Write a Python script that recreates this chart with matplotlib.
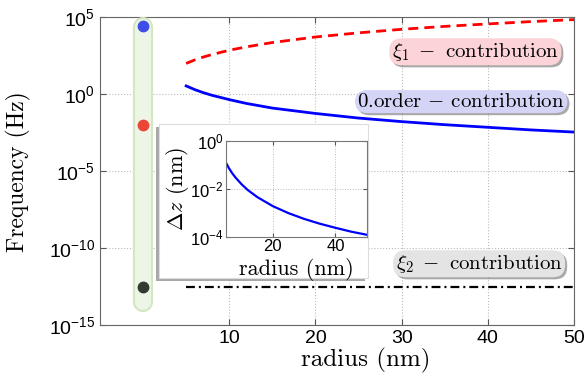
import numpy as np
import matplotlib
matplotlib.use('Agg')
import matplotlib.pyplot as plt
import matplotlib.patheffects as pe
from matplotlib.patches import Rectangle

plt.rcParams['font.family'] = ['Liberation Sans', 'DejaVu Sans']
plt.rcParams['mathtext.fontset'] = 'cm'
CM = ['cmr10', 'DejaVu Serif']

# radius values (nm) and log10 of the curves
radius = [5, 6, 7, 8, 10, 12, 15, 20, 25, 30, 35, 40, 45, 50]
xi1_log = [2.00, 2.23, 2.42, 2.58, 2.86, 3.08, 3.36, 3.72, 3.99, 4.22, 4.41, 4.57, 4.72, 4.85]
order0_log = [0.54, 0.30, 0.10, -0.07, -0.35, -0.60, -0.90, -1.25, -1.55, -1.78, -1.98, -2.15, -2.32, -2.46]
xi2_log = [-12.5] * len(radius)
dz_log = [-0.92, -1.16, -1.36, -1.53, -1.82, -2.06, -2.35, -2.73, -3.02, -3.26, -3.46, -3.63, -3.79, -3.92]

dot_logs = [4.45, -2.0, -12.5]
dot_colors = ['#3d4fe6', '#ec4637', '#333a33']
bar_range = [4.4, -13.5]

fig = plt.figure(figsize=(5.86, 3.88), dpi=100)
ax = fig.add_axes([0.1706, 0.1624, 0.8089, 0.793])

r = np.array(radius)
ax.plot(r, 10.0 ** np.array(xi1_log), color='red', lw=2, dashes=(3.6, 2.2))
ax.plot(r, 10.0 ** np.array(order0_log), color='blue', lw=2)
ax.plot(r, 10.0 ** np.array(xi2_log), color='black', lw=1.6, dashes=(4, 1.8, 0.9, 1.8))

# green rounded bar with the coloured dots
bar_y = 10.0 ** np.array(bar_range)
ax.plot([0, 0], bar_y, color='#d3e7c0', lw=14.5, solid_capstyle='round', zorder=3)
ax.plot([0, 0], bar_y, color='#edf6e6', lw=11.5, solid_capstyle='round', zorder=3)
for lv, c in zip(dot_logs, dot_colors):
    ax.plot(0, 10.0 ** lv, 'o', color=c, ms=7.5, zorder=4)

ax.set_yscale('log')
ax.set_xlim(-5, 50)
ax.set_ylim(1e-15, 1e5)
ax.set_xticks([10, 20, 30, 40, 50])
ax.set_yticks([1e-15, 1e-10, 1e-5, 1e0, 1e5])
ax.yaxis.set_minor_locator(matplotlib.ticker.NullLocator())
ax.tick_params(labelsize=14, direction='in', length=4, top=True, right=True,
               color='#555555')
ax.grid(True, ls=':', color='#bbbbbb', lw=0.8)
for s in ax.spines.values():
    s.set_color('#666666')
ax.set_xlabel('radius (nm)', fontsize=18, family=CM)
ax.set_ylabel('Frequency (Hz)', fontsize=17, family=CM)
ax.xaxis.set_label_coords(0.561, -0.075)
ax.yaxis.set_label_coords(-0.145, 0.5)

labels = [r'$\xi_1\;-$ contribution',
          r'0.order $-$ contribution',
          r'$\xi_2\;-$ contribution']
label_pos = [(0.968, 0.888), (0.981, 0.726), (0.976, 0.199)]
label_colors = ['#fcd3d6', '#d4d4f6', '#e4e4e4']
for txt, (lx, ly), c in zip(labels, label_pos, label_colors):
    t = ax.text(lx, ly, txt, transform=ax.transAxes, ha='right', va='center',
                fontsize=15, family=CM, zorder=6,
                bbox=dict(boxstyle='round,pad=0.12,rounding_size=0.6', fc=c, ec='none'))
    t.get_bbox_patch().set_path_effects([
        pe.SimplePatchShadow(offset=(1.5, -1.5), shadow_rgbFace='#555555', alpha=0.5),
        pe.Normal()])

# inset panel with shadow
fig.add_artist(Rectangle((156 / 586, 1 - 281 / 388), 209 / 586, 154 / 388,
                         transform=fig.transFigure, fc='#a8a8a8', ec='none', zorder=4))
fig.add_artist(Rectangle((159 / 586, 1 - 278 / 388), 209 / 586, 154 / 388,
                         transform=fig.transFigure, fc='white', ec='#dddddd', lw=0.8, zorder=4))

ins = fig.add_axes([0.3857, 0.39, 0.2401, 0.2474], zorder=5)
ins.plot(r, 10.0 ** np.array(dz_log), color='blue', lw=1.6)
ins.set_yscale('log')
ins.set_xlim(5, 50)
ins.set_ylim(1e-4, 1e0)
ins.set_xticks([20, 40])
ins.set_yticks([1e-4, 1e-2, 1e0])
ins.yaxis.set_minor_locator(matplotlib.ticker.NullLocator())
ins.tick_params(labelsize=12, direction='in', length=3, top=True, right=True,
                color='#555555', pad=2)
ins.grid(True, ls=':', color='#bbbbbb', lw=0.7)
for s in ins.spines.values():
    s.set_color('#777777')
ins.set_xlabel('radius (nm)', fontsize=16, family=CM)
ins.set_ylabel(r'$\Delta z$ (nm)', fontsize=16, family=CM)
ins.xaxis.set_label_coords(0.5, -0.22)
ins.yaxis.set_label_coords(-0.25, 0.5)

fig.savefig('out.png', dpi=100)
